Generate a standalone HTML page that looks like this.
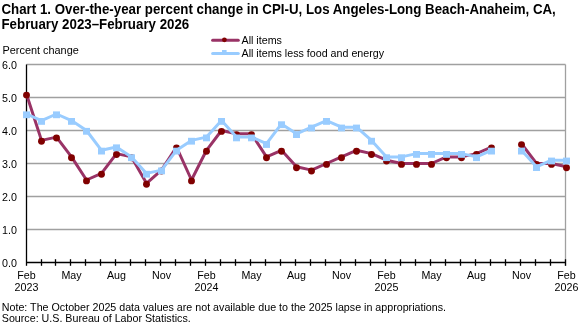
<!DOCTYPE html>
<html><head><meta charset="utf-8"><style>
html,body{margin:0;padding:0;background:#fff;width:586px;height:326px;overflow:hidden}
svg{display:block;will-change:transform}
text{font-family:"Liberation Sans",sans-serif;fill:#000}
.thin{stroke:#fff;stroke-width:0px}
</style></head><body>
<svg width="586" height="326" viewBox="0 0 586 326">
<line x1="26.5" y1="229.50" x2="565.50" y2="229.50" stroke="#a0a0a0" stroke-width="1.3"/>
<line x1="26.5" y1="196.50" x2="565.50" y2="196.50" stroke="#a0a0a0" stroke-width="1.3"/>
<line x1="26.5" y1="163.50" x2="565.50" y2="163.50" stroke="#a0a0a0" stroke-width="1.3"/>
<line x1="26.5" y1="130.50" x2="565.50" y2="130.50" stroke="#a0a0a0" stroke-width="1.3"/>
<line x1="26.5" y1="97.50" x2="565.50" y2="97.50" stroke="#a0a0a0" stroke-width="1.3"/>
<line x1="26.5" y1="64.50" x2="565.50" y2="64.50" stroke="#a0a0a0" stroke-width="1.3"/>
<line x1="565.50" y1="64.50" x2="565.50" y2="265.80" stroke="#a0a0a0" stroke-width="1.3"/>
<line x1="26.5" y1="64.50" x2="26.5" y2="265.80" stroke="#000" stroke-width="1.3"/>
<line x1="26.5" y1="262.5" x2="565.50" y2="262.5" stroke="#000" stroke-width="1.3"/>
<line x1="41.50" y1="259.20" x2="41.50" y2="265.80" stroke="#000" stroke-width="1.3"/>
<line x1="55.50" y1="259.20" x2="55.50" y2="265.80" stroke="#000" stroke-width="1.3"/>
<line x1="70.50" y1="259.20" x2="70.50" y2="265.80" stroke="#000" stroke-width="1.3"/>
<line x1="85.50" y1="259.20" x2="85.50" y2="265.80" stroke="#000" stroke-width="1.3"/>
<line x1="100.50" y1="259.20" x2="100.50" y2="265.80" stroke="#000" stroke-width="1.3"/>
<line x1="115.50" y1="259.20" x2="115.50" y2="265.80" stroke="#000" stroke-width="1.3"/>
<line x1="130.50" y1="259.20" x2="130.50" y2="265.80" stroke="#000" stroke-width="1.3"/>
<line x1="145.50" y1="259.20" x2="145.50" y2="265.80" stroke="#000" stroke-width="1.3"/>
<line x1="160.50" y1="259.20" x2="160.50" y2="265.80" stroke="#000" stroke-width="1.3"/>
<line x1="175.50" y1="259.20" x2="175.50" y2="265.80" stroke="#000" stroke-width="1.3"/>
<line x1="190.50" y1="259.20" x2="190.50" y2="265.80" stroke="#000" stroke-width="1.3"/>
<line x1="205.50" y1="259.20" x2="205.50" y2="265.80" stroke="#000" stroke-width="1.3"/>
<line x1="220.50" y1="259.20" x2="220.50" y2="265.80" stroke="#000" stroke-width="1.3"/>
<line x1="235.50" y1="259.20" x2="235.50" y2="265.80" stroke="#000" stroke-width="1.3"/>
<line x1="250.50" y1="259.20" x2="250.50" y2="265.80" stroke="#000" stroke-width="1.3"/>
<line x1="265.50" y1="259.20" x2="265.50" y2="265.80" stroke="#000" stroke-width="1.3"/>
<line x1="280.50" y1="259.20" x2="280.50" y2="265.80" stroke="#000" stroke-width="1.3"/>
<line x1="295.50" y1="259.20" x2="295.50" y2="265.80" stroke="#000" stroke-width="1.3"/>
<line x1="310.50" y1="259.20" x2="310.50" y2="265.80" stroke="#000" stroke-width="1.3"/>
<line x1="325.50" y1="259.20" x2="325.50" y2="265.80" stroke="#000" stroke-width="1.3"/>
<line x1="340.50" y1="259.20" x2="340.50" y2="265.80" stroke="#000" stroke-width="1.3"/>
<line x1="355.50" y1="259.20" x2="355.50" y2="265.80" stroke="#000" stroke-width="1.3"/>
<line x1="370.50" y1="259.20" x2="370.50" y2="265.80" stroke="#000" stroke-width="1.3"/>
<line x1="385.50" y1="259.20" x2="385.50" y2="265.80" stroke="#000" stroke-width="1.3"/>
<line x1="400.50" y1="259.20" x2="400.50" y2="265.80" stroke="#000" stroke-width="1.3"/>
<line x1="415.50" y1="259.20" x2="415.50" y2="265.80" stroke="#000" stroke-width="1.3"/>
<line x1="430.50" y1="259.20" x2="430.50" y2="265.80" stroke="#000" stroke-width="1.3"/>
<line x1="445.50" y1="259.20" x2="445.50" y2="265.80" stroke="#000" stroke-width="1.3"/>
<line x1="460.50" y1="259.20" x2="460.50" y2="265.80" stroke="#000" stroke-width="1.3"/>
<line x1="475.50" y1="259.20" x2="475.50" y2="265.80" stroke="#000" stroke-width="1.3"/>
<line x1="490.50" y1="259.20" x2="490.50" y2="265.80" stroke="#000" stroke-width="1.3"/>
<line x1="505.50" y1="259.20" x2="505.50" y2="265.80" stroke="#000" stroke-width="1.3"/>
<line x1="520.50" y1="259.20" x2="520.50" y2="265.80" stroke="#000" stroke-width="1.3"/>
<line x1="535.50" y1="259.20" x2="535.50" y2="265.80" stroke="#000" stroke-width="1.3"/>
<line x1="550.50" y1="259.20" x2="550.50" y2="265.80" stroke="#000" stroke-width="1.3"/>
<line x1="565.50" y1="259.20" x2="565.50" y2="265.80" stroke="#000" stroke-width="1.3"/>
<polyline points="26.50,94.20 41.50,140.40 56.50,137.10 71.50,156.90 86.50,180.00 101.50,173.40 116.50,153.60 131.50,156.90 146.50,183.30 161.50,170.10 176.50,147.00 191.50,180.00 206.50,150.30 221.50,130.50 236.50,133.80 251.50,133.80 266.50,156.90 281.50,150.30 296.50,166.80 311.50,170.10 326.50,163.50 341.50,156.90 356.50,150.30 371.50,153.60 386.50,160.20 401.50,163.50 416.50,163.50 431.50,163.50 446.50,156.90 461.50,156.90 476.50,153.60 491.50,147.00" fill="none" stroke="#993366" stroke-width="3" stroke-linejoin="round" stroke-linecap="round"/>
<polyline points="521.50,143.70 536.50,163.50 551.50,163.50 566.50,166.80" fill="none" stroke="#993366" stroke-width="3" stroke-linejoin="round" stroke-linecap="round"/>
<circle cx="26.50" cy="95.10" r="3.45" fill="#800000"/>
<circle cx="41.50" cy="141.30" r="3.45" fill="#800000"/>
<circle cx="56.50" cy="138.00" r="3.45" fill="#800000"/>
<circle cx="71.50" cy="157.80" r="3.45" fill="#800000"/>
<circle cx="86.50" cy="180.90" r="3.45" fill="#800000"/>
<circle cx="101.50" cy="174.30" r="3.45" fill="#800000"/>
<circle cx="116.50" cy="154.50" r="3.45" fill="#800000"/>
<circle cx="131.50" cy="157.80" r="3.45" fill="#800000"/>
<circle cx="146.50" cy="184.20" r="3.45" fill="#800000"/>
<circle cx="161.50" cy="171.00" r="3.45" fill="#800000"/>
<circle cx="176.50" cy="147.90" r="3.45" fill="#800000"/>
<circle cx="191.50" cy="180.90" r="3.45" fill="#800000"/>
<circle cx="206.50" cy="151.20" r="3.45" fill="#800000"/>
<circle cx="221.50" cy="131.40" r="3.45" fill="#800000"/>
<circle cx="236.50" cy="134.70" r="3.45" fill="#800000"/>
<circle cx="251.50" cy="134.70" r="3.45" fill="#800000"/>
<circle cx="266.50" cy="157.80" r="3.45" fill="#800000"/>
<circle cx="281.50" cy="151.20" r="3.45" fill="#800000"/>
<circle cx="296.50" cy="167.70" r="3.45" fill="#800000"/>
<circle cx="311.50" cy="171.00" r="3.45" fill="#800000"/>
<circle cx="326.50" cy="164.40" r="3.45" fill="#800000"/>
<circle cx="341.50" cy="157.80" r="3.45" fill="#800000"/>
<circle cx="356.50" cy="151.20" r="3.45" fill="#800000"/>
<circle cx="371.50" cy="154.50" r="3.45" fill="#800000"/>
<circle cx="386.50" cy="161.10" r="3.45" fill="#800000"/>
<circle cx="401.50" cy="164.40" r="3.45" fill="#800000"/>
<circle cx="416.50" cy="164.40" r="3.45" fill="#800000"/>
<circle cx="431.50" cy="164.40" r="3.45" fill="#800000"/>
<circle cx="446.50" cy="157.80" r="3.45" fill="#800000"/>
<circle cx="461.50" cy="157.80" r="3.45" fill="#800000"/>
<circle cx="476.50" cy="154.50" r="3.45" fill="#800000"/>
<circle cx="491.50" cy="147.90" r="3.45" fill="#800000"/>
<circle cx="521.50" cy="144.60" r="3.45" fill="#800000"/>
<circle cx="536.50" cy="164.40" r="3.45" fill="#800000"/>
<circle cx="551.50" cy="164.40" r="3.45" fill="#800000"/>
<circle cx="566.50" cy="167.70" r="3.45" fill="#800000"/>
<polyline points="26.50,114.00 41.50,120.60 56.50,114.00 71.50,120.60 86.50,130.50 101.50,150.30 116.50,147.00 131.50,156.90 146.50,173.40 161.50,170.10 176.50,150.30 191.50,140.40 206.50,137.10 221.50,120.60 236.50,137.10 251.50,137.10 266.50,143.70 281.50,123.90 296.50,133.80 311.50,127.20 326.50,120.60 341.50,127.20 356.50,127.20 371.50,140.40 386.50,156.90 401.50,156.90 416.50,153.60 431.50,153.60 446.50,153.60 461.50,153.60 476.50,156.90 491.50,150.30" fill="none" stroke="#99ccff" stroke-width="3" stroke-linejoin="round" stroke-linecap="round"/>
<polyline points="521.50,150.30 536.50,166.80 551.50,160.20 566.50,160.20" fill="none" stroke="#99ccff" stroke-width="3" stroke-linejoin="round" stroke-linecap="round"/>
<rect x="23.00" y="111.40" width="7" height="6.8" fill="#99ccff"/>
<rect x="38.00" y="118.00" width="7" height="6.8" fill="#99ccff"/>
<rect x="53.00" y="111.40" width="7" height="6.8" fill="#99ccff"/>
<rect x="68.00" y="118.00" width="7" height="6.8" fill="#99ccff"/>
<rect x="83.00" y="127.90" width="7" height="6.8" fill="#99ccff"/>
<rect x="98.00" y="147.70" width="7" height="6.8" fill="#99ccff"/>
<rect x="113.00" y="144.40" width="7" height="6.8" fill="#99ccff"/>
<rect x="128.00" y="154.30" width="7" height="6.8" fill="#99ccff"/>
<rect x="143.00" y="170.80" width="7" height="6.8" fill="#99ccff"/>
<rect x="158.00" y="167.50" width="7" height="6.8" fill="#99ccff"/>
<rect x="173.00" y="147.70" width="7" height="6.8" fill="#99ccff"/>
<rect x="188.00" y="137.80" width="7" height="6.8" fill="#99ccff"/>
<rect x="203.00" y="134.50" width="7" height="6.8" fill="#99ccff"/>
<rect x="218.00" y="118.00" width="7" height="6.8" fill="#99ccff"/>
<rect x="233.00" y="134.50" width="7" height="6.8" fill="#99ccff"/>
<rect x="248.00" y="134.50" width="7" height="6.8" fill="#99ccff"/>
<rect x="263.00" y="141.10" width="7" height="6.8" fill="#99ccff"/>
<rect x="278.00" y="121.30" width="7" height="6.8" fill="#99ccff"/>
<rect x="293.00" y="131.20" width="7" height="6.8" fill="#99ccff"/>
<rect x="308.00" y="124.60" width="7" height="6.8" fill="#99ccff"/>
<rect x="323.00" y="118.00" width="7" height="6.8" fill="#99ccff"/>
<rect x="338.00" y="124.60" width="7" height="6.8" fill="#99ccff"/>
<rect x="353.00" y="124.60" width="7" height="6.8" fill="#99ccff"/>
<rect x="368.00" y="137.80" width="7" height="6.8" fill="#99ccff"/>
<rect x="383.00" y="154.30" width="7" height="6.8" fill="#99ccff"/>
<rect x="398.00" y="154.30" width="7" height="6.8" fill="#99ccff"/>
<rect x="413.00" y="151.00" width="7" height="6.8" fill="#99ccff"/>
<rect x="428.00" y="151.00" width="7" height="6.8" fill="#99ccff"/>
<rect x="443.00" y="151.00" width="7" height="6.8" fill="#99ccff"/>
<rect x="458.00" y="151.00" width="7" height="6.8" fill="#99ccff"/>
<rect x="473.00" y="154.30" width="7" height="6.8" fill="#99ccff"/>
<rect x="488.00" y="147.70" width="7" height="6.8" fill="#99ccff"/>
<rect x="518.00" y="147.70" width="7" height="6.8" fill="#99ccff"/>
<rect x="533.00" y="164.20" width="7" height="6.8" fill="#99ccff"/>
<rect x="548.00" y="157.60" width="7" height="6.8" fill="#99ccff"/>
<rect x="563.00" y="157.60" width="7" height="6.8" fill="#99ccff"/>
<line x1="212.6" y1="40.2" x2="238.3" y2="40.2" stroke="#993366" stroke-width="3" stroke-linecap="round"/>
<circle cx="224.4" cy="39.8" r="2.4" fill="#800000"/>
<line x1="212.6" y1="53.5" x2="238.3" y2="53.5" stroke="#99ccff" stroke-width="3" stroke-linecap="round"/>
<rect x="222" y="50" width="4.6" height="4" fill="#99ccff"/>
<text class="thin" transform="translate(1.5,14) scale(1,1.09)" x="0" y="0" font-size="13.3" text-anchor="start" font-weight="bold" letter-spacing="0">Chart 1. Over-the-year percent change in CPI-U, Los Angeles-Long Beach-Anaheim, CA,</text>
<text class="thin" transform="translate(1.5,28.5) scale(1,1.09)" x="0" y="0" font-size="13.3" text-anchor="start" font-weight="bold" letter-spacing="0">February 2023–February 2026</text>
<text x="2.5" y="54.2" font-size="10.9" text-anchor="start" font-weight="normal" letter-spacing="0">Percent change</text>
<text x="241.5" y="43.8" font-size="10.7" text-anchor="start" font-weight="normal" letter-spacing="0">All items</text>
<text x="241.5" y="57.4" font-size="10.7" text-anchor="start" font-weight="normal" letter-spacing="0">All items less food and energy</text>
<text x="2" y="267.4" font-size="10.7" text-anchor="start" font-weight="normal" letter-spacing="0">0.0</text>
<text x="2" y="234.4" font-size="10.7" text-anchor="start" font-weight="normal" letter-spacing="0">1.0</text>
<text x="2" y="201.4" font-size="10.7" text-anchor="start" font-weight="normal" letter-spacing="0">2.0</text>
<text x="2" y="168.4" font-size="10.7" text-anchor="start" font-weight="normal" letter-spacing="0">3.0</text>
<text x="2" y="135.4" font-size="10.7" text-anchor="start" font-weight="normal" letter-spacing="0">4.0</text>
<text x="2" y="102.4" font-size="10.7" text-anchor="start" font-weight="normal" letter-spacing="0">5.0</text>
<text x="2" y="69.4" font-size="10.7" text-anchor="start" font-weight="normal" letter-spacing="0">6.0</text>
<text x="26.50" y="279.4" font-size="10.7" text-anchor="middle" font-weight="normal" letter-spacing="0">Feb</text>
<text x="26.50" y="290.8" font-size="10.7" text-anchor="middle" font-weight="normal" letter-spacing="0">2023</text>
<text x="71.50" y="279.4" font-size="10.7" text-anchor="middle" font-weight="normal" letter-spacing="0">May</text>
<text x="116.50" y="279.4" font-size="10.7" text-anchor="middle" font-weight="normal" letter-spacing="0">Aug</text>
<text x="161.50" y="279.4" font-size="10.7" text-anchor="middle" font-weight="normal" letter-spacing="0">Nov</text>
<text x="206.50" y="279.4" font-size="10.7" text-anchor="middle" font-weight="normal" letter-spacing="0">Feb</text>
<text x="206.50" y="290.8" font-size="10.7" text-anchor="middle" font-weight="normal" letter-spacing="0">2024</text>
<text x="251.50" y="279.4" font-size="10.7" text-anchor="middle" font-weight="normal" letter-spacing="0">May</text>
<text x="296.50" y="279.4" font-size="10.7" text-anchor="middle" font-weight="normal" letter-spacing="0">Aug</text>
<text x="341.50" y="279.4" font-size="10.7" text-anchor="middle" font-weight="normal" letter-spacing="0">Nov</text>
<text x="386.50" y="279.4" font-size="10.7" text-anchor="middle" font-weight="normal" letter-spacing="0">Feb</text>
<text x="386.50" y="290.8" font-size="10.7" text-anchor="middle" font-weight="normal" letter-spacing="0">2025</text>
<text x="431.50" y="279.4" font-size="10.7" text-anchor="middle" font-weight="normal" letter-spacing="0">May</text>
<text x="476.50" y="279.4" font-size="10.7" text-anchor="middle" font-weight="normal" letter-spacing="0">Aug</text>
<text x="521.50" y="279.4" font-size="10.7" text-anchor="middle" font-weight="normal" letter-spacing="0">Nov</text>
<text x="566.50" y="279.4" font-size="10.7" text-anchor="middle" font-weight="normal" letter-spacing="0">Feb</text>
<text x="566.50" y="290.8" font-size="10.7" text-anchor="middle" font-weight="normal" letter-spacing="0">2026</text>
<text x="1.8" y="311.2" font-size="10.7" text-anchor="start" font-weight="normal" letter-spacing="0">Note: The October 2025 data values are not available due to the 2025 lapse in appropriations.</text>
<text x="1.8" y="322.4" font-size="10.7" text-anchor="start" font-weight="normal" letter-spacing="0">Source: U.S. Bureau of Labor Statistics.</text>
</svg>
</body></html>
